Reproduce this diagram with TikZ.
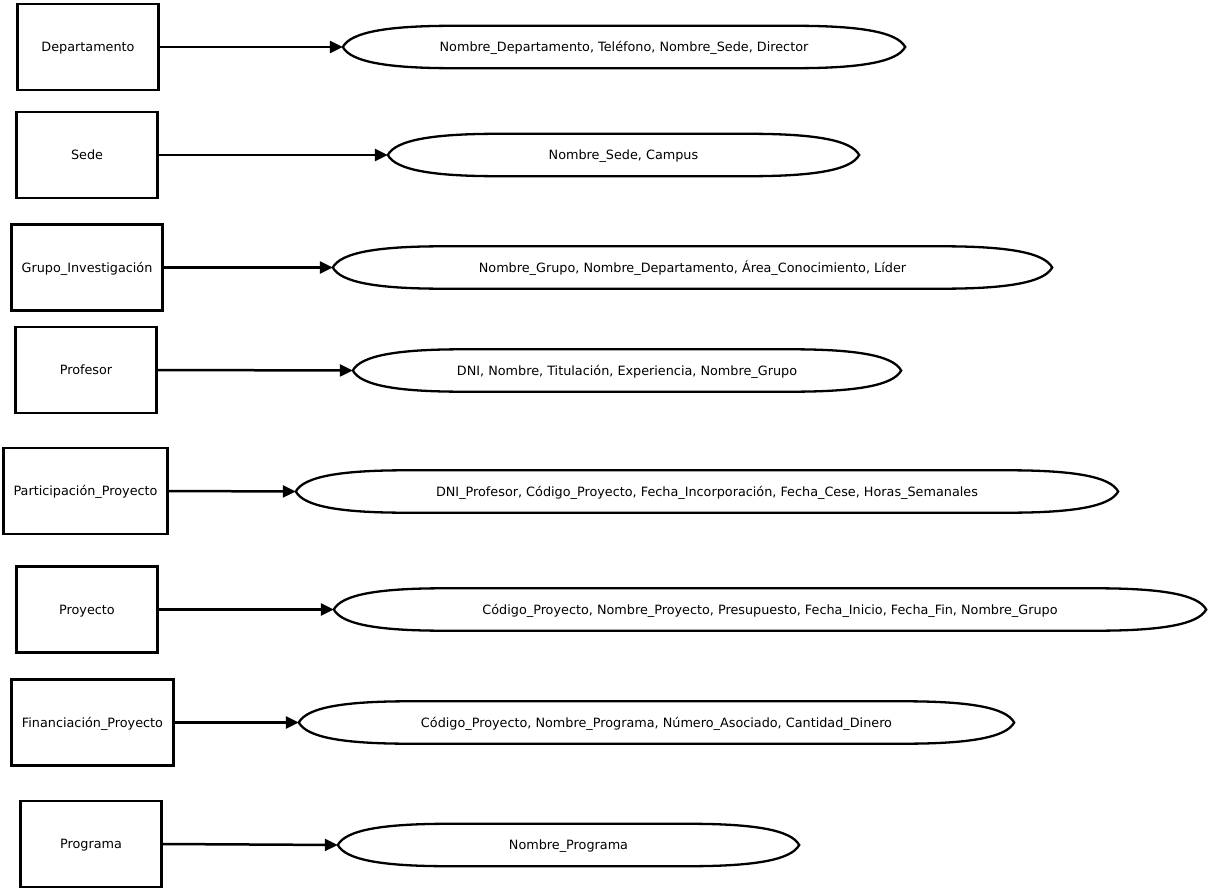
\documentclass[tikz,border=0pt]{standalone}
\usepackage{fontspec}
\setmainfont{DejaVu Sans}
\usetikzlibrary{arrows.meta,calc}
\tikzset{
  lbl/.style={font=\fontsize{12.8}{15}\selectfont, text height=9.3pt, text depth=0pt},
  entity/.style={lbl, draw, line width=2.9pt, minimum height=86pt, inner sep=0pt},
  attrs/.style={lbl, minimum height=42pt, inner sep=0pt},
  link/.style={line width=2.5pt, -{Triangle[length=13pt,width=12pt]}},
  outline/.style={line width=2.3pt}
}
% elongated oval around an attribute node
\newcommand\attroval[1]{%
  \draw[outline] (#1.west)
    .. controls ($(#1.west)+(8,-15)$) and ($(#1.north west)+(45,0)$) .. ($(#1.north west)+(110,0)$)
    -- ($(#1.north east)+(-110,0)$)
    .. controls ($(#1.north east)+(-45,0)$) and ($(#1.east)+(-8,-15)$) .. (#1.east)
    .. controls ($(#1.east)+(-8,15)$) and ($(#1.south east)+(-45,0)$) .. ($(#1.south east)+(-110,0)$)
    -- ($(#1.south west)+(110,0)$)
    .. controls ($(#1.south west)+(45,0)$) and ($(#1.west)+(8,15)$) .. cycle;}
\begin{document}
\begin{tikzpicture}[x=1pt,y=-1pt]
\useasboundingbox[fill=white] (0,0) rectangle (1211,891);

\node[entity, minimum width=141pt] (e1) at (88,47) {Departamento};
\node[entity, minimum width=141pt] (e2) at (87,155) {Sede};
\node[entity, minimum width=151pt] (e3) at (87,267.5) {Grupo\_Investigación};
\node[entity, minimum width=141pt] (e4) at (86,370) {Profesor};
\node[entity, minimum width=164pt] (e5) at (85.5,491) {Participación\_Proyecto};
\node[entity, minimum width=141pt] (e6) at (87,609.5) {Proyecto};
\node[entity, minimum width=162pt] (e7) at (92.5,722.5) {Financiación\_Proyecto};
\node[entity, minimum width=141pt] (e8) at (91,844) {Programa};

\node[attrs, minimum width=562pt] (a1) at (624,47) {Nombre\_Departamento, Teléfono, Nombre\_Sede, Director};
\node[attrs, minimum width=471pt] (a2) at (623.5,155) {Nombre\_Sede, Campus};
\node[attrs, minimum width=719pt] (a3) at (692.5,267.5) {Nombre\_Grupo, Nombre\_Departamento, Área\_Conocimiento, Líder};
\node[attrs, minimum width=548pt] (a4) at (627,370.5) {DNI, Nombre, Titulación, Experiencia, Nombre\_Grupo};
\node[attrs, minimum width=822pt] (a5) at (707,491.5) {DNI\_Profesor, Código\_Proyecto, Fecha\_Incorporación, Fecha\_Cese, Horas\_Semanales};
\node[attrs, minimum width=872pt] (a6) at (770,609.5) {Código\_Proyecto, Nombre\_Proyecto, Presupuesto, Fecha\_Inicio, Fecha\_Fin, Nombre\_Grupo};
\node[attrs, minimum width=715pt] (a7) at (656.5,722.5) {Código\_Proyecto, Nombre\_Programa, Número\_Asociado, Cantidad\_Dinero};
\node[attrs, minimum width=461pt] (a8) at (568.5,845) {Nombre\_Programa};

\foreach \i in {1,...,8} {
  \attroval{a\i}
  \draw[link] (e\i.east) -- (a\i.west);
}
\end{tikzpicture}
\end{document}
